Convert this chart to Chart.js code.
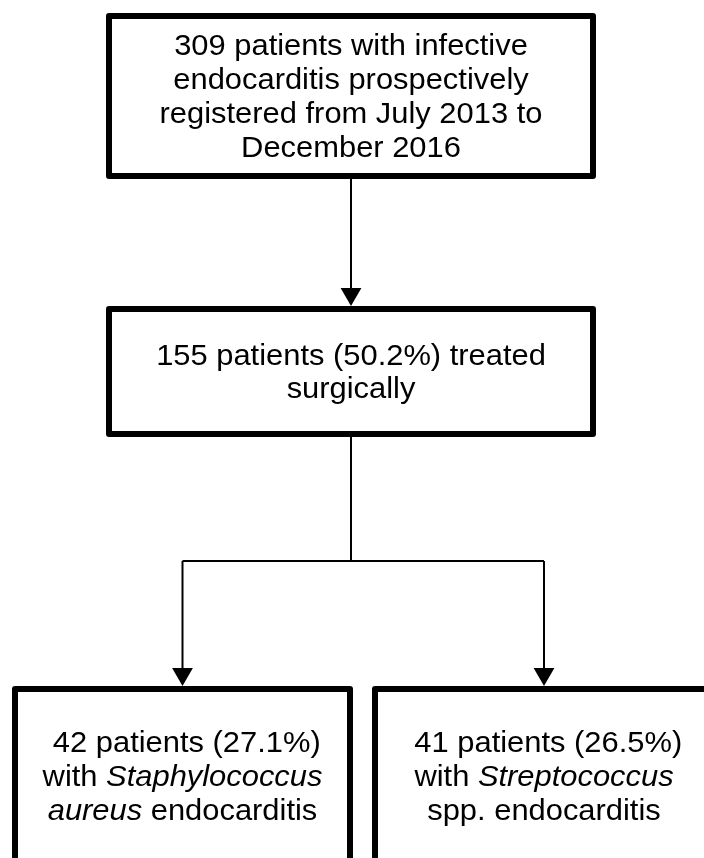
<!DOCTYPE html>
<html>
<head>
<meta charset="utf-8">
<title>Flowchart</title>
<script src="https://cdn.jsdelivr.net/npm/chart.js@4.4.1/dist/chart.umd.min.js"></script>
<style>
  html, body { margin: 0; padding: 0; background: #fff; }
  canvas { display: block; }
</style>
</head>
<body>
<canvas id="flow" width="704" height="858"></canvas>
<script>
// node text, *...* = italic
const nodeLines = [
  ["309 patients with infective", "endocarditis prospectively", "registered from July 2013 to", "December 2016"],
  ["155 patients (50.2%) treated", "surgically"],
  [" 42 patients (27.1%)", "with *Staphylococcus*", "*aureus* endocarditis"],
  [" 41 patients (26.5%)", "with *Streptococcus*", "spp. endocarditis"]
];

// parent -> child
const edges = [[0, 1], [1, 2], [1, 3]];

// layout (pixel units of the hidden axes)
const layout = {
  width: 704,
  height: 858,
  boxes: [
    { x0: 109, x1: 593, y0: 16, y1: 176 },
    { x0: 109, x1: 593, y0: 309, y1: 434 },
    { x0: 15, x1: 350, y0: 689, y1: 863 },
    { x0: 375, x1: 713, y0: 689, y1: 863 }
  ],
  forkDrop: 127,
  arrowSize: 12,
  boxLine: 6,
  edgeLine: 2,
  fontSize: 29,
  textStretch: 1.065,
  lineHeight: 33.8,
  baselineShift: 10
};

function cx(b) { return (b.x0 + b.x1) / 2; }

// build connector polylines from the edges
function buildConnectors() {
  const out = [];
  const byParent = {};
  edges.forEach(([p, c]) => { (byParent[p] = byParent[p] || []).push(c); });
  Object.keys(byParent).forEach(p => {
    const pb = layout.boxes[p];
    const kids = byParent[p];
    const tipGap = layout.arrowSize + 3;
    if (kids.length === 1) {
      const cb = layout.boxes[kids[0]];
      out.push({ pts: [{ x: cx(pb), y: pb.y1 }, { x: cx(pb), y: cb.y0 - tipGap }], arrow: true });
    } else {
      const fy = pb.y1 + layout.forkDrop;
      out.push({ pts: [{ x: cx(pb), y: pb.y1 }, { x: cx(pb), y: fy }], arrow: false });
      const xs = kids.map(k => cx(layout.boxes[k]));
      out.push({ pts: [{ x: Math.min(...xs), y: fy }, { x: Math.max(...xs), y: fy }], arrow: false });
      kids.forEach(k => {
        const cb = layout.boxes[k];
        out.push({ pts: [{ x: cx(cb), y: fy }, { x: cx(cb), y: cb.y0 - tipGap }], arrow: true });
      });
    }
  });
  return out;
}

const connectors = buildConnectors();

const datasets = connectors.map(c => ({
  data: c.pts,
  showLine: true,
  borderColor: "#000",
  borderWidth: layout.edgeLine,
  pointStyle: "triangle",
  rotation: 180,
  pointBackgroundColor: "#000",
  pointBorderWidth: 0,
  pointRadius: ctx => (c.arrow && ctx.dataIndex === c.pts.length - 1) ? layout.arrowSize : 0,
  pointHoverRadius: 0
}));

function parseSegments(line) {
  return line.split("*").map((t, i) => ({ text: t, italic: i % 2 === 1 })).filter(s => s.text.length);
}

function fontFor(italic) {
  return (italic ? "italic " : "") + layout.fontSize + 'px "Liberation Sans", Arial, sans-serif';
}

const boxPlugin = {
  id: "boxes",
  afterDatasetsDraw(chart) {
    const { ctx, scales } = chart;
    const X = v => scales.x.getPixelForValue(v);
    const Y = v => scales.y.getPixelForValue(v);
    ctx.save();
    layout.boxes.forEach((b, i) => {
      const x0 = X(b.x0), x1 = X(b.x1), y0 = Y(b.y0), y1 = Y(b.y1);
      ctx.fillStyle = "#fff";
      ctx.fillRect(x0, y0, x1 - x0, y1 - y0);
      ctx.lineWidth = layout.boxLine;
      ctx.lineJoin = "round";
      ctx.strokeStyle = "#000";
      ctx.strokeRect(x0, y0, x1 - x0, y1 - y0);

      const lines = nodeLines[i];
      const midX = (x0 + x1) / 2;
      const midY = (y0 + y1) / 2;
      let base = midY - (lines.length - 1) / 2 * layout.lineHeight + layout.baselineShift;
      ctx.fillStyle = "#000";
      ctx.textBaseline = "alphabetic";
      ctx.textAlign = "left";
      lines.forEach(line => {
        const segs = parseSegments(line);
        let total = 0;
        segs.forEach(s => {
          ctx.font = fontFor(s.italic);
          s.w = ctx.measureText(s.text).width;
          total += s.w;
        });
        ctx.save();
        ctx.translate(midX, base);
        ctx.scale(layout.textStretch, 1);
        let x = -total / 2;
        segs.forEach(s => {
          ctx.font = fontFor(s.italic);
          ctx.fillText(s.text, x, 0);
          x += s.w;
        });
        ctx.restore();
        base += layout.lineHeight;
      });
    });
    ctx.restore();
  }
};

new Chart(document.getElementById("flow"), {
  type: "scatter",
  data: { datasets },
  options: {
    responsive: false,
    animation: false,
    events: [],
    layout: { padding: 0, autoPadding: false },
    scales: {
      x: { type: "linear", min: 0, max: layout.width, display: false },
      y: { type: "linear", min: 0, max: layout.height, reverse: true, display: false }
    },
    plugins: {
      legend: { display: false },
      tooltip: { enabled: false }
    }
  },
  plugins: [boxPlugin]
});
</script>
</body>
</html>
